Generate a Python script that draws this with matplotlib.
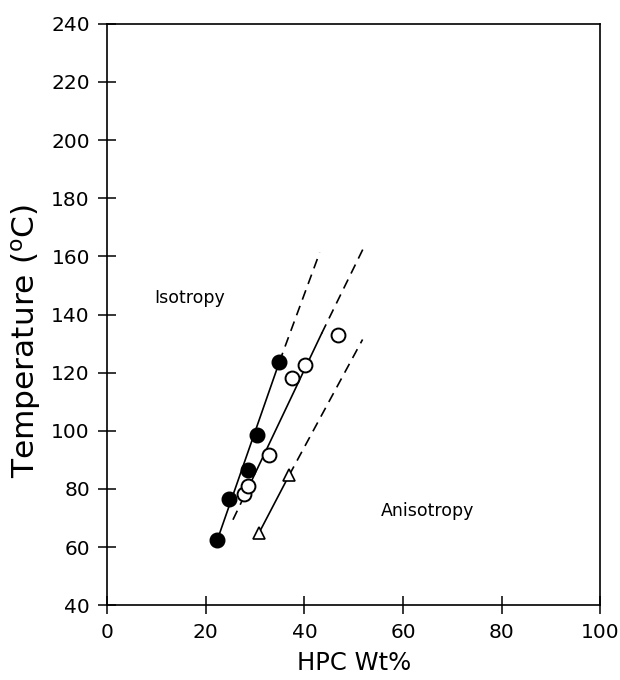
import matplotlib
matplotlib.use("Agg")
import matplotlib.pyplot as plt

plt.rcParams['font.family'] = ['DejaVu Sans']

# Filled circles series
filled_x = [22.3, 24.8, 28.5, 30.4, 34.9]
filled_y = [62.3, 76.6, 86.5, 98.4, 123.6]
# Open circles series
open_x = [27.8, 28.6, 32.8, 37.4, 40.2, 46.9]
open_y = [78.1, 81.1, 91.5, 118.2, 122.8, 132.8]
# Triangles series
tri_x = [30.8, 36.9]
tri_y = [64.9, 84.7]

# Boundary lines (solid part, dashed extension)
filled_solid_x = [22.3, 34.9]
filled_solid_y = [62.3, 123.6]
filled_dash_x = [34.9, 43.1]
filled_dash_y = [123.6, 161.3]

open_dash_lo_x = [25.5, 28.5]
open_dash_lo_y = [69.4, 80.0]
open_solid_x = [28.5, 43.5]
open_solid_y = [80.0, 133.5]
open_dash_hi_x = [43.5, 52.4]
open_dash_hi_y = [133.5, 164.3]

tri_solid_x = [30.8, 36.9]
tri_solid_y = [64.9, 84.7]
tri_dash_x = [36.9, 51.8]
tri_dash_y = [84.7, 131.4]

xticks = [0, 20, 40, 60, 80, 100]
yticks = [40, 60, 80, 100, 120, 140, 160, 180, 200, 220, 240]

fig = plt.figure(figsize=(6.2, 6.8), dpi=100)
ax = fig.add_axes([0.173, 0.110, 0.795, 0.855])

lw = 1.2
dash = (6, 4)
ax.plot(filled_solid_x, filled_solid_y, '-', color='black', lw=lw)
ax.plot(filled_dash_x, filled_dash_y, '--', color='black', lw=lw, dashes=dash)
ax.plot(open_dash_lo_x, open_dash_lo_y, '--', color='black', lw=lw, dashes=dash)
ax.plot(open_solid_x, open_solid_y, '-', color='black', lw=lw)
ax.plot(open_dash_hi_x, open_dash_hi_y, '--', color='black', lw=lw, dashes=dash)
ax.plot(tri_solid_x, tri_solid_y, '-', color='black', lw=lw)
ax.plot(tri_dash_x, tri_dash_y, '--', color='black', lw=lw, dashes=dash)

ax.plot(filled_x, filled_y, 'o', ms=10.5, mfc='black', mec='black', zorder=5)
ax.plot(open_x, open_y, 'o', ms=10, mfc='white', mec='black', mew=1.4, zorder=5)
ax.plot(tri_x, tri_y, '^', ms=9, mfc='white', mec='black', mew=1.2, zorder=5)

ax.text(9.6, 145.6, 'Isotropy', fontsize=12.5, va='center', ha='left')
ax.text(55.6, 72.4, 'Anisotropy', fontsize=12.5, va='center', ha='left')

ax.set_xlim(0, 100)
ax.set_ylim(40, 240)
ax.set_xticks(xticks)
ax.set_yticks(yticks)
ax.tick_params(direction='inout', length=13, width=1.1, labelsize=14.5, pad=6)
for s in ax.spines.values():
    s.set_linewidth(1.2)

ax.set_xlabel('HPC Wt%', fontsize=17.5, labelpad=7)
ax.set_ylabel('Temperature ($^{\\mathrm{o}}$C)', fontsize=22.5)
ax.yaxis.set_label_coords(-0.130, 0.455)

fig.savefig('out.png', dpi=100, facecolor='white')
